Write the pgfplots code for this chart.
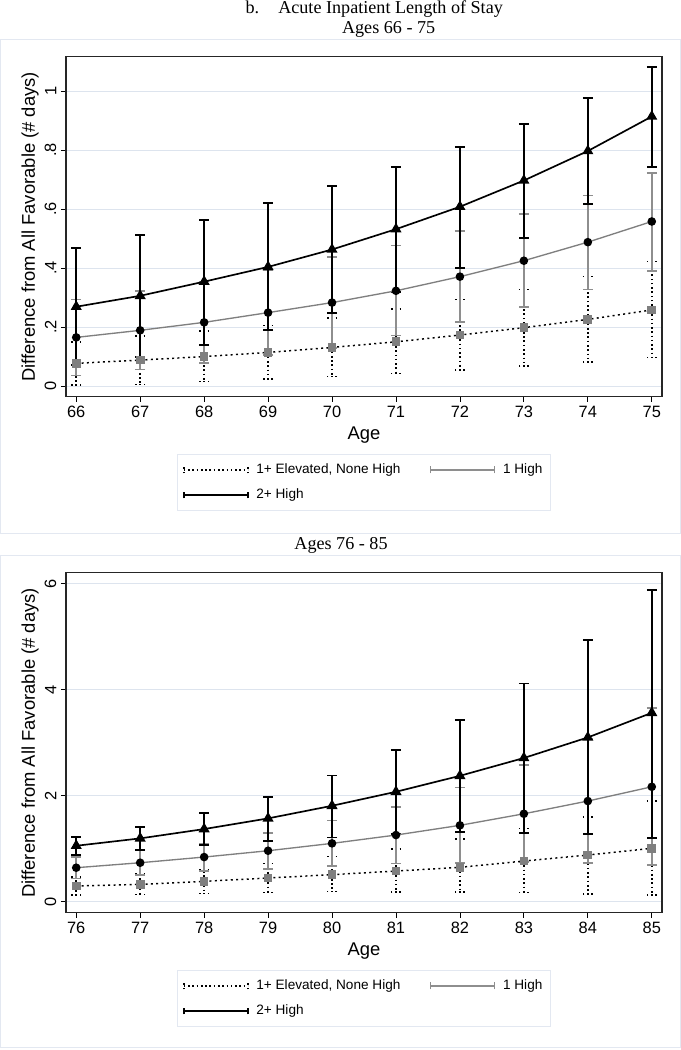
\documentclass[border=0pt]{standalone}
\usepackage{pgfplots}
\pgfplotsset{compat=1.18}
\usepackage{pgfplotstable}
\usepackage{fontspec}
\setmainfont{Liberation Sans}
\newfontfamily\seriffont{Liberation Serif}

\definecolor{gridc}{HTML}{DDE4EE}
\definecolor{boxc}{HTML}{E3E8F1}
\definecolor{lgray}{HTML}{7F7F7F}
\definecolor{egray}{HTML}{8E8E8E}

% age | 1+ elevated (est, lo, hi) | 1 high | 2+ high
\pgfplotstableread{
age sq    sqlo  sqhi  ci    cilo  cihi  tr    trlo  trhi
66  0.077 0.004 0.150 0.165 0.036 0.294 0.269 0.071 0.467
67  0.088 0.006 0.170 0.189 0.056 0.322 0.306 0.100 0.512
68  0.100 0.015 0.187 0.216 0.078 0.354 0.354 0.140 0.563
69  0.114 0.024 0.206 0.249 0.106 0.392 0.404 0.189 0.620
70  0.131 0.032 0.230 0.283 0.129 0.437 0.463 0.247 0.679
71  0.150 0.043 0.261 0.323 0.171 0.477 0.532 0.320 0.744
72  0.173 0.054 0.294 0.371 0.217 0.526 0.608 0.400 0.810
73  0.198 0.068 0.328 0.425 0.269 0.583 0.697 0.501 0.889
74  0.226 0.082 0.371 0.488 0.328 0.646 0.797 0.618 0.976
75  0.258 0.097 0.422 0.558 0.391 0.722 0.914 0.744 1.081
}\younger

\pgfplotstableread{
age sq    sqlo  sqhi  ci    cilo  cihi  tr    trlo  trhi
76  0.296 0.130 0.470 0.641 0.440 0.840 1.055 0.880 1.225
77  0.327 0.140 0.520 0.735 0.500 0.970 1.194 0.974 1.413
78  0.384 0.158 0.610 0.842 0.580 1.100 1.370 1.068 1.677
79  0.447 0.170 0.720 0.961 0.620 1.300 1.571 1.150 1.979
80  0.510 0.190 0.850 1.100 0.670 1.530 1.809 1.210 2.380
81  0.578 0.180 0.990 1.257 0.720 1.790 2.073 1.280 2.860
82  0.648 0.180 1.180 1.440 0.730 2.150 2.374 1.320 3.424
83  0.767 0.170 1.380 1.658 0.750 2.580 2.710 1.290 4.115
84  0.880 0.145 1.600 1.898 0.730 3.070 3.098 1.275 4.930
85  1.006 0.126 1.900 2.167 0.690 3.656 3.562 1.206 5.886
}\older

\tikzset{
  cidot/.style={black, line width=1.1pt, dash pattern=on 1.2pt off 2pt},
  cigray/.style={egray, line width=1.2pt},
  ciblack/.style={black, line width=1.4pt},
}

\pgfplotsset{
  panel/.style={
    scale only axis, width=447pt, height=254.8pt, anchor=south west,
    axis line style={black!85, line width=0.8pt},
    tick align=outside, xtick pos=lower, ytick pos=left,
    major tick length=3.75pt,
    tick style={black, line width=0.6pt},
    ymajorgrids, grid style={gridc, line width=0.8pt},
    /pgf/number format/assume math mode=true,
    tick label style={font=\fontsize{12.3pt}{14pt}\selectfont},
    yticklabel style={rotate=90, anchor=south},
    xlabel={Age}, ylabel={Difference from All Favorable (\# days)},
    label style={font=\fontsize{13.8pt}{16pt}\selectfont},
    xlabel style={at={(axis description cs:0.5,0)}, anchor=center, yshift=-28.7pt},
    ylabel style={at={(axis description cs:0,0.5)}, anchor=center, yshift=27pt},
    legend columns=2, legend cell align=left,
    legend style={at={(0.5,0)}, anchor=north, yshift=-43pt, draw=boxc,
      line width=0.8pt, font=\fontsize{10.2pt}{12pt}\selectfont,
      inner xsep=4pt, inner ysep=5pt, row sep=6pt,
      /tikz/every even column/.append style={column sep=20pt}},
  },
  legimg/.style={legend image code/.code={
    \draw[#1] (0pt,0pt) -- (48pt,0pt) (0pt,-2.6pt) -- (0pt,2.6pt) (48pt,-2.6pt) -- (48pt,2.6pt);
    \path (52pt,0pt);}},
  cibars/.style={only marks, mark=none,
    error bars/.cd, y dir=both, y explicit,
    error mark=|,
    error bar style={#1},
    error mark options={#1, mark size=3.75pt}},
}

\newcommand\drawpanel[1]{%
  \addplot[legimg=cidot, cibars=cidot] table[x=age, y=sq,
    y error plus expr=\thisrow{sqhi}-\thisrow{sq},
    y error minus expr=\thisrow{sq}-\thisrow{sqlo}] {#1};
  \addlegendentry{1+ Elevated, None High}
  \addplot[legimg=cigray, cibars=cigray] table[x=age, y=ci,
    y error plus expr=\thisrow{cihi}-\thisrow{ci},
    y error minus expr=\thisrow{ci}-\thisrow{cilo}] {#1};
  \addlegendentry{1 High}
  \addplot[legimg=ciblack, cibars=ciblack] table[x=age, y=tr,
    y error plus expr=\thisrow{trhi}-\thisrow{tr},
    y error minus expr=\thisrow{tr}-\thisrow{trlo}] {#1};
  \addlegendentry{2+ High}
  \addplot[forget plot, black, line width=1.1pt, dash pattern=on 1.5pt off 2.5pt,
    mark=square*, mark size=2.7pt, mark options={solid, fill=lgray, draw=lgray}]
    table[x=age, y=sq] {#1};
  \addplot[forget plot, lgray, line width=1pt,
    mark=*, mark size=2.7pt, mark options={fill=black, draw=black}]
    table[x=age, y=ci] {#1};
  \addplot[forget plot, black, line width=1.25pt,
    mark=triangle*, mark size=3.6pt, mark options={fill=black}]
    table[x=age, y=tr] {#1};
}

\begin{document}
\begin{tikzpicture}
\fill[white] (0,0) rectangle (510.75pt,-787.5pt);
\useasboundingbox (0,0) rectangle (510.75pt,-787.5pt);

\draw[boxc, line width=0.75pt] (0.4pt,-29.5pt) rectangle (510pt,-400pt);
\draw[boxc, line width=0.75pt] (0.4pt,-416.25pt) rectangle (510pt,-785.8pt);

\node[anchor=base west, inner sep=0pt, font=\seriffont\fontsize{13.6pt}{16pt}\selectfont] at (184pt,-10pt) {b.};
\node[anchor=base west, inner sep=0pt, font=\seriffont\fontsize{13.6pt}{16pt}\selectfont] at (208.5pt,-10pt) {Acute Inpatient Length of Stay};
\node[anchor=base, inner sep=0pt, font=\seriffont\fontsize{13.6pt}{16pt}\selectfont] at (291.5pt,-25pt) {Ages 66 - 75};
\node[anchor=base, inner sep=0pt, font=\seriffont\fontsize{13.6pt}{16pt}\selectfont] at (255.75pt,-412pt) {Ages 76 - 85};

\begin{axis}[panel, at={(49.5pt,-297.5pt)},
  xmin=65.84, xmax=75.16, ymin=-0.036, ymax=1.116,
  xtick={66,67,68,69,70,71,72,73,74,75},
  ytick={0,0.2,0.4,0.6,0.8,1}, yticklabels={0,.2,.4,.6,.8,1}]
\drawpanel{\younger}
\end{axis}

\begin{axis}[panel, at={(49.5pt,-684.5pt)},
  xmin=75.84, xmax=85.16, ymin=-0.207, ymax=6.2,
  xtick={76,77,78,79,80,81,82,83,84,85},
  ytick={0,2,4,6}]
\drawpanel{\older}
\end{axis}
\end{tikzpicture}
\end{document}
